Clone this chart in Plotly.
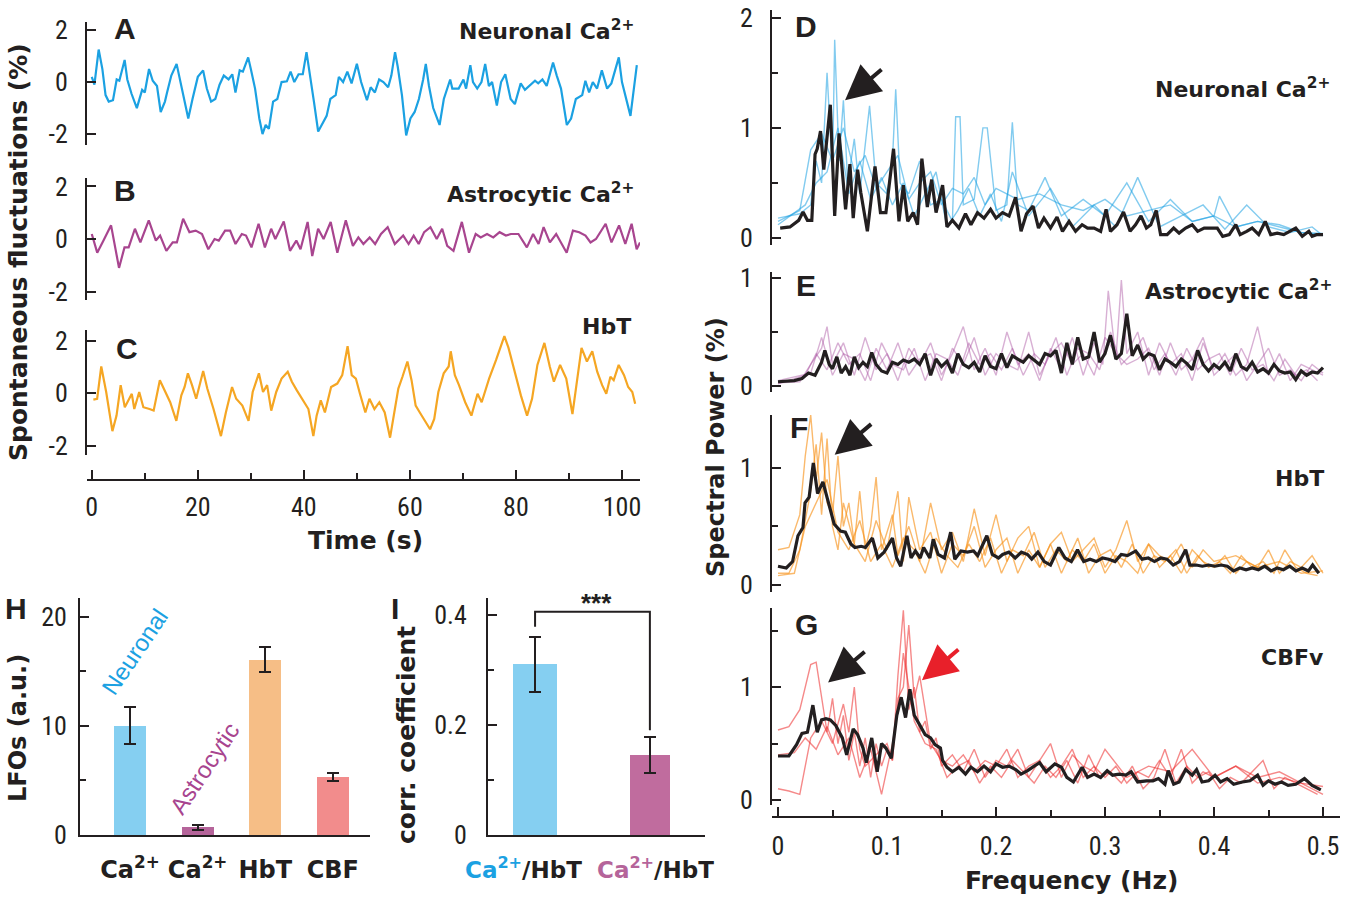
import plotly.graph_objects as go

# ---------------- data ----------------
# (time s, fluctuation %)
NEURONAL_TRACE = [(0,0.2),(0.5,-0.1),(1.3,1.25),(2.0,0.5),(2.6,-0.5),(3.2,-0.75),(4.0,-0.7),(4.7,0.1),(5.2,0.05),(6.2,0.85),(6.7,0.1),(7.5,-0.45),(8.5,-1.0),(9.5,-0.3),(10.0,-0.4),(10.8,0.5),(11.5,0.05),(12.3,-0.15),(13.0,-1.15),(13.8,-0.75),(14.2,-0.4),(15.0,0.25),(16.0,0.7),(17.0,-0.25),(18.2,-1.4),(19.0,-0.65),(20.0,0.2),(21.0,0.45),(21.7,-0.25),(22.5,-0.75),(23.3,-0.65),(24.1,-0.1),(24.9,0.25),(25.8,0.1),(26.5,0.3),(27.1,-0.4),(27.9,0.45),(28.5,0.4),(29.5,0.95),(30.0,0.5),(30.8,-0.25),(31.6,-1.4),(32.2,-2.0),(32.8,-1.65),(33.4,-1.8),(34.2,-0.75),(35.0,-0.65),(35.8,0.0),(36.8,0.03),(37.5,0.4),(38.2,0.0),(39.0,0.3),(39.8,0.3),(40.5,1.15),(41.1,0.4),(41.9,-0.75),(42.7,-1.9),(43.5,-1.6),(44.3,-1.3),(45.0,-0.65),(46.0,-0.5),(46.6,0.2),(47.4,0.0),(48.2,0.4),(49.0,-0.05),(50.0,0.7),(50.8,0.0),(51.9,-0.7),(52.6,-0.2),(53.4,-0.4),(54.2,0.1),(55.0,0.0),(55.9,-0.2),(56.5,0.25),(57.2,1.15),(57.7,0.6),(58.5,-0.5),(59.3,-2.05),(60.1,-1.4),(60.9,-1.15),(61.7,-0.65),(62.5,0.1),(63.0,0.7),(63.6,-0.15),(64.4,-1.0),(65.6,-1.65),(66.4,-0.65),(67.6,0.1),(68.0,-0.25),(69.2,-0.25),(70.1,0.1),(70.6,-0.25),(71.4,0.65),(71.9,0.0),(72.7,-0.25),(73.5,0.0),(74.2,0.7),(74.9,-0.15),(75.5,0.0),(76.4,-0.9),(77.2,0.0),(78.0,0.3),(79.0,-0.65),(79.8,-0.85),(80.9,-0.05),(81.7,-0.3),(82.5,-0.15),(83.6,0.05),(84.2,-0.05),(85.0,0.1),(85.8,-0.15),(87.0,0.75),(87.7,0.25),(88.5,-0.25),(89.6,-1.65),(90.4,-1.4),(91.3,-0.65),(92.5,-0.5),(93.1,0.05),(93.8,-0.4),(94.5,0.0),(95.3,-0.25),(96.2,0.45),(97.2,-0.25),(98.0,-0.05),(99.4,0.95),(100.0,0.0),(100.8,-0.7),(101.6,-1.3),(102.8,0.65)]

ASTRO_TRACE = [(0,0.19),(1.03,-0.52),(2.21,-0.06),(3.64,0.52),(5.14,-1.1),(6.17,-0.32),(6.96,-0.32),(8.14,0.39),(9.17,-0.13),(10.75,0.71),(12.09,-0.06),(12.89,0.13),(14.07,-0.45),(15.26,-0.13),(16.05,-0.13),(17.23,0.77),(18.42,0.26),(19.6,0.32),(20.79,0.19),(21.98,-0.39),(23.16,0),(23.95,-0.06),(25.14,0.32),(26.09,0.32),(27.11,-0.19),(28.3,0.19),(29.09,0.13),(30.12,-0.32),(31.46,0.58),(32.65,-0.32),(33.83,0.39),(34.62,0),(36.21,0.67),(37.39,-0.45),(38.58,-0.06),(39.37,-0.39),(40.71,0.65),(41.58,-0.65),(42.69,0.39),(43.72,0),(45.06,0.65),(46.32,-0.52),(47.91,0.71),(49.25,-0.26),(50.28,0.06),(51.23,-0.19),(52.41,0.06),(53.44,-0.19),(54.55,0.19),(55.81,0.45),(57.15,-0.19),(58.74,0.13),(59.76,-0.19),(60.71,0.13),(61.66,-0.19),(62.69,0.26),(63.87,0.45),(65.06,0),(66.09,0.39),(67.04,-0.26),(68.22,-0.45),(69.8,0.65),(71.15,-0.52),(72.41,0.19),(73.36,0.06),(74.55,0.19),(75.73,0.06),(76.92,0.26),(78.1,0.13),(79.05,0.19),(80.47,0.19),(82.06,-0.32),(83.24,0.19),(84.27,-0.19),(85.22,0.45),(86.4,-0.13),(87.59,0.19),(89.57,-0.52),(90.75,0.32),(91.94,0.26),(93.12,0.13),(94.07,-0.13),(95.1,0),(96.92,0.58),(98.02,-0.13),(99.45,0.52),(100.63,-0.19),(101.82,0.58),(102.77,-0.39),(103.4,-0.13)]

HBT_TRACE = [(0.3,-0.25),(1.01,-0.22),(1.79,1.01),(2.72,0.04),(3.89,-1.45),(4.67,-0.86),(5.45,0.3),(6.23,-0.54),(7.55,-0.03),(8.02,-0.61),(8.95,0.04),(9.73,-0.54),(10.89,-0.61),(11.67,-0.67),(12.84,0.49),(13.62,0.17),(14.79,-0.35),(15.95,-1.06),(16.89,-0.09),(17.51,0.23),(18.13,0.75),(18.91,0.3),(19.69,-0.22),(21.01,0.84),(21.79,0.17),(22.96,-0.61),(24.36,-1.64),(25.29,-0.74),(26.46,0.23),(27.24,-0.22),(28.4,-0.48),(29.57,-1.06),(30.35,0.04),(31.52,0.75),(32.3,0.04),(33.07,0.3),(33.85,-0.67),(34.79,0.04),(35.8,0.55),(36.96,0.81),(37.74,0.43),(38.68,0.1),(39.69,-0.22),(40.86,-0.61),(41.79,-1.64),(42.41,-0.86),(43.19,-0.28),(43.97,-0.74),(45.14,0.23),(46.3,0.36),(47.24,0.68),(48.25,1.78),(49.03,0.68),(49.81,0.55),(50.58,-0.03),(51.6,-0.74),(52.37,-0.22),(53.31,-0.61),(54.24,-0.35),(55.25,-0.74),(56.26,-1.7),(57.04,-0.74),(57.82,0.17),(58.6,0.62),(59.53,1.2),(60.31,0.49),(61.09,-0.48),(61.87,-0.74),(62.65,-0.99),(63.81,-1.38),(64.59,-0.99),(65.37,0.04),(66.38,0.75),(67.32,1.01),(67.7,1.59),(68.48,0.68),(69.26,0.3),(70.43,-0.35),(71.6,-0.86),(72.76,-0.03),(73.54,-0.35),(74.16,0.04),(74.94,0.55),(76.26,1.26),(77.82,2.17),(78.6,1.72),(79.77,0.81),(80.93,-0.09),(82.1,-0.86),(83.04,-0.22),(84.05,1.07),(85.37,1.91),(86.38,1.01),(87.16,0.43),(88.33,1.07),(89.49,0.55),(90.66,-0.8),(91.44,0.3),(92.37,1.72),(93.39,1.2),(94.4,1.59),(95.33,0.81),(96.26,0.3),(97.04,-0.03),(97.82,0.62),(98.44,0.49),(99.38,1.07),(100.39,0.68),(101.17,0.23),(101.95,0.04),(102.49,-0.41)]

# spectra: (frequency Hz, power %)
D_MEAN = [(0.002,0.09),(0.011,0.10),(0.019,0.16),(0.023,0.235),(0.027,0.16),(0.031,0.16),(0.034,0.76),(0.036,0.81),(0.039,0.97),(0.042,0.62),(0.048,1.21),(0.052,0.2),(0.056,0.95),(0.062,0.26),(0.066,0.67),(0.069,0.18),(0.073,0.62),(0.076,0.41),(0.082,0.06),(0.089,0.65),(0.094,0.23),(0.099,0.23),(0.106,0.81),(0.111,0.15),(0.115,0.48),(0.119,0.15),(0.124,0.23),(0.128,0.12),(0.132,0.72),(0.137,0.28),(0.141,0.53),(0.145,0.23),(0.151,0.48),(0.155,0.1),(0.16,0.16),(0.166,0.09),(0.172,0.22),(0.177,0.12),(0.183,0.23),(0.189,0.18),(0.195,0.26),(0.2,0.18),(0.206,0.23),(0.212,0.2),(0.218,0.37),(0.223,0.06),(0.228,0.22),(0.234,0.29),(0.239,0.09),(0.244,0.18),(0.25,0.09),(0.256,0.19),(0.261,0.06),(0.267,0.15),(0.273,0.06),(0.279,0.12),(0.284,0.09),(0.29,0.09),(0.296,0.06),(0.301,0.26),(0.305,0.06),(0.311,0.12),(0.317,0.235),(0.323,0.06),(0.328,0.12),(0.333,0.2),(0.338,0.09),(0.342,0.12),(0.347,0.25),(0.351,0.03),(0.357,0.03),(0.363,0.09),(0.368,0.044),(0.374,0.09),(0.38,0.12),(0.385,0.06),(0.391,0.09),(0.396,0.09),(0.403,0.09),(0.408,0.015),(0.414,0.03),(0.42,0.12),(0.424,0.03),(0.43,0.06),(0.435,0.09),(0.441,0.03),(0.447,0.15),(0.452,0.03),(0.458,0.044),(0.464,0.03),(0.469,0.06),(0.475,0.09),(0.481,0.015),(0.487,0.06),(0.49,0.015),(0.494,0.03),(0.5,0.03)]
D_ANIMALS = [
    [(0,0.18),(0.02,0.22),(0.03,0.3),(0.035,0.7),(0.04,0.5),(0.045,1.5),(0.05,0.6),(0.052,1.8),(0.056,0.7),(0.06,1.25),(0.064,0.5),(0.07,0.9),(0.075,0.4),(0.08,0.85),(0.084,1.2),(0.09,0.5),(0.1,0.4),(0.105,0.7),(0.108,1.35),(0.112,0.5),(0.12,0.4),(0.13,0.7),(0.14,0.3),(0.15,0.35),(0.16,0.15),(0.163,1.1),(0.167,1.1),(0.17,0.3),(0.18,0.35),(0.188,1.0),(0.192,1.0),(0.2,0.25),(0.21,0.3),(0.215,1.05),(0.22,0.3),(0.23,0.25),(0.245,0.55),(0.26,0.2),(0.28,0.35),(0.3,0.2),(0.32,0.5),(0.34,0.15),(0.36,0.35),(0.38,0.15),(0.4,0.2),(0.405,0.38),(0.42,0.1),(0.44,0.15),(0.46,0.1),(0.48,0.05),(0.5,0.03)],
    [(0,0.15),(0.02,0.25),(0.03,0.8),(0.04,0.95),(0.05,0.7),(0.06,1.0),(0.07,0.6),(0.08,0.75),(0.09,0.45),(0.1,0.6),(0.11,0.75),(0.12,0.35),(0.13,0.5),(0.14,0.6),(0.15,0.3),(0.16,0.45),(0.17,0.4),(0.18,0.55),(0.19,0.3),(0.2,0.45),(0.22,0.35),(0.24,0.4),(0.26,0.3),(0.28,0.25),(0.3,0.35),(0.32,0.2),(0.34,0.25),(0.36,0.3),(0.38,0.15),(0.4,0.2),(0.42,0.1),(0.44,0.15),(0.46,0.12),(0.48,0.05),(0.5,0.04)],
    [(0,0.12),(0.025,0.3),(0.035,0.5),(0.045,0.6),(0.055,1.0),(0.065,0.4),(0.075,0.7),(0.085,0.35),(0.095,0.55),(0.105,0.3),(0.115,0.5),(0.125,0.2),(0.135,0.4),(0.145,0.6),(0.155,0.1),(0.165,0.25),(0.175,0.45),(0.185,0.2),(0.195,0.4),(0.205,0.15),(0.215,0.6),(0.23,0.2),(0.25,0.45),(0.27,0.1),(0.29,0.3),(0.31,0.1),(0.33,0.55),(0.35,0.1),(0.37,0.2),(0.39,0.3),(0.41,0.08),(0.43,0.3),(0.45,0.1),(0.47,0.05),(0.49,0.1),(0.5,0.02)],
]

E_MEAN = [(0,0.04),(0.015,0.05),(0.022,0.07),(0.028,0.12),(0.034,0.1),(0.04,0.22),(0.043,0.33),(0.047,0.2),(0.05,0.16),(0.054,0.27),(0.058,0.12),(0.062,0.18),(0.066,0.1),(0.07,0.27),(0.074,0.17),(0.078,0.22),(0.082,0.18),(0.086,0.31),(0.09,0.2),(0.095,0.14),(0.1,0.12),(0.105,0.22),(0.11,0.2),(0.115,0.24),(0.12,0.22),(0.125,0.25),(0.13,0.2),(0.135,0.3),(0.14,0.1),(0.145,0.25),(0.15,0.18),(0.155,0.23),(0.16,0.12),(0.165,0.3),(0.17,0.2),(0.175,0.17),(0.18,0.22),(0.185,0.13),(0.19,0.28),(0.195,0.18),(0.2,0.16),(0.205,0.3),(0.21,0.17),(0.215,0.28),(0.22,0.25),(0.225,0.22),(0.23,0.28),(0.235,0.24),(0.24,0.2),(0.245,0.3),(0.25,0.28),(0.255,0.33),(0.26,0.12),(0.265,0.4),(0.27,0.2),(0.275,0.45),(0.28,0.25),(0.285,0.27),(0.29,0.5),(0.295,0.22),(0.3,0.3),(0.305,0.47),(0.31,0.25),(0.315,0.3),(0.32,0.67),(0.325,0.28),(0.33,0.38),(0.335,0.25),(0.34,0.3),(0.345,0.28),(0.35,0.15),(0.355,0.25),(0.36,0.22),(0.365,0.18),(0.37,0.25),(0.375,0.21),(0.38,0.15),(0.385,0.33),(0.39,0.2),(0.395,0.14),(0.4,0.2),(0.405,0.16),(0.41,0.22),(0.415,0.14),(0.42,0.3),(0.425,0.18),(0.43,0.15),(0.435,0.22),(0.44,0.13),(0.445,0.16),(0.45,0.12),(0.455,0.2),(0.46,0.14),(0.465,0.12),(0.47,0.13),(0.475,0.06),(0.48,0.14),(0.485,0.1),(0.49,0.13),(0.495,0.12),(0.5,0.17)]
E_ANIMALS = [
    [(0,0.03),(0.02,0.04),(0.03,0.2),(0.04,0.35),(0.045,0.55),(0.05,0.2),(0.06,0.4),(0.07,0.1),(0.08,0.45),(0.09,0.15),(0.1,0.3),(0.11,0.05),(0.12,0.35),(0.13,0.2),(0.14,0.4),(0.15,0.1),(0.16,0.3),(0.17,0.55),(0.18,0.15),(0.19,0.35),(0.2,0.1),(0.21,0.5),(0.22,0.2),(0.23,0.3),(0.24,0.05),(0.25,0.35),(0.26,0.15),(0.27,0.45),(0.28,0.1),(0.29,0.4),(0.298,0.2),(0.303,0.88),(0.31,0.25),(0.315,0.98),(0.32,0.3),(0.33,0.5),(0.34,0.1),(0.35,0.4),(0.36,0.2),(0.37,0.3),(0.38,0.05),(0.39,0.4),(0.4,0.15),(0.41,0.3),(0.42,0.1),(0.43,0.2),(0.44,0.55),(0.45,0.1),(0.46,0.3),(0.47,0.05),(0.48,0.2),(0.49,0.15),(0.5,0.1)],
    [(0,0.02),(0.025,0.1),(0.035,0.3),(0.045,0.15),(0.055,0.4),(0.065,0.2),(0.075,0.3),(0.085,0.05),(0.095,0.4),(0.105,0.2),(0.115,0.15),(0.125,0.35),(0.135,0.05),(0.145,0.3),(0.155,0.25),(0.165,0.1),(0.175,0.4),(0.185,0.2),(0.195,0.3),(0.205,0.15),(0.215,0.35),(0.225,0.1),(0.235,0.3),(0.245,0.2),(0.255,0.45),(0.265,0.1),(0.275,0.35),(0.285,0.3),(0.295,0.15),(0.305,0.5),(0.315,0.2),(0.325,0.3),(0.335,0.45),(0.345,0.15),(0.355,0.3),(0.365,0.1),(0.375,0.35),(0.385,0.15),(0.395,0.25),(0.405,0.3),(0.415,0.1),(0.425,0.35),(0.435,0.15),(0.445,0.2),(0.455,0.05),(0.465,0.25),(0.475,0.1),(0.485,0.15),(0.495,0.05)],
    [(0,0.05),(0.03,0.12),(0.04,0.45),(0.05,0.1),(0.06,0.3),(0.07,0.25),(0.08,0.05),(0.09,0.35),(0.1,0.15),(0.11,0.4),(0.12,0.1),(0.13,0.25),(0.14,0.3),(0.15,0.05),(0.16,0.35),(0.17,0.2),(0.18,0.45),(0.19,0.1),(0.2,0.3),(0.21,0.2),(0.22,0.15),(0.23,0.5),(0.24,0.1),(0.25,0.3),(0.26,0.4),(0.27,0.2),(0.28,0.3),(0.29,0.1),(0.3,0.45),(0.31,0.3),(0.32,0.2),(0.33,0.25),(0.34,0.35),(0.35,0.1),(0.36,0.4),(0.37,0.15),(0.38,0.25),(0.39,0.45),(0.4,0.1),(0.41,0.2),(0.42,0.3),(0.43,0.05),(0.44,0.2),(0.45,0.35),(0.46,0.1),(0.47,0.15),(0.48,0.05),(0.49,0.2),(0.5,0.12)],
]

F_MEAN = [(0,0.16),(0.0076,0.145),(0.0134,0.2),(0.0183,0.42),(0.0229,0.49),(0.0248,0.7),(0.0286,0.75),(0.0324,1.04),(0.0363,0.78),(0.0412,0.88),(0.0458,0.72),(0.0515,0.52),(0.0573,0.46),(0.0618,0.45),(0.0668,0.35),(0.0706,0.32),(0.0763,0.33),(0.0802,0.32),(0.0866,0.4),(0.0916,0.23),(0.0973,0.28),(0.105,0.4),(0.1088,0.23),(0.1126,0.16),(0.1183,0.42),(0.1221,0.23),(0.126,0.29),(0.1305,0.23),(0.1336,0.32),(0.1393,0.23),(0.1424,0.39),(0.1469,0.26),(0.1527,0.23),(0.1584,0.45),(0.1622,0.22),(0.1679,0.29),(0.1737,0.28),(0.1794,0.29),(0.1832,0.25),(0.1916,0.42),(0.1966,0.26),(0.2023,0.23),(0.2061,0.26),(0.2118,0.28),(0.2176,0.23),(0.2233,0.28),(0.229,0.26),(0.2328,0.22),(0.2385,0.28),(0.2443,0.2),(0.25,0.17),(0.2576,0.32),(0.2634,0.23),(0.2691,0.2),(0.2748,0.3),(0.2805,0.2),(0.2863,0.22),(0.292,0.2),(0.2977,0.23),(0.3034,0.22),(0.3092,0.2),(0.3149,0.26),(0.3206,0.25),(0.3282,0.29),(0.334,0.22),(0.3397,0.23),(0.3454,0.2),(0.3511,0.23),(0.3569,0.22),(0.3626,0.17),(0.3683,0.2),(0.374,0.3),(0.3779,0.17),(0.3836,0.17),(0.3893,0.16),(0.395,0.17),(0.4008,0.16),(0.4065,0.17),(0.4122,0.16),(0.4179,0.12),(0.4237,0.145),(0.4294,0.13),(0.4351,0.145),(0.4408,0.13),(0.4466,0.16),(0.4523,0.12),(0.458,0.145),(0.4637,0.13),(0.4695,0.16),(0.4752,0.12),(0.4809,0.145),(0.4866,0.12),(0.4905,0.17),(0.4962,0.1)]
F_ANIMALS = [
    [(0,0.3),(0.01,0.32),(0.02,0.6),(0.025,1.1),(0.03,1.45),(0.035,0.9),(0.04,1.3),(0.045,0.7),(0.05,0.6),(0.055,1.1),(0.06,0.5),(0.065,0.7),(0.07,0.35),(0.075,0.8),(0.08,0.3),(0.085,0.5),(0.09,0.92),(0.095,0.3),(0.1,0.45),(0.105,0.6),(0.11,0.25),(0.12,0.5),(0.13,0.2),(0.14,0.7),(0.15,0.3),(0.16,0.45),(0.17,0.2),(0.18,0.65),(0.19,0.25),(0.2,0.6),(0.21,0.2),(0.22,0.4),(0.23,0.5),(0.24,0.15),(0.25,0.35),(0.26,0.45),(0.27,0.2),(0.28,0.3),(0.29,0.4),(0.3,0.15),(0.31,0.3),(0.32,0.55),(0.33,0.2),(0.34,0.35),(0.35,0.25),(0.36,0.2),(0.37,0.35),(0.38,0.15),(0.39,0.3),(0.4,0.2),(0.42,0.25),(0.44,0.15),(0.46,0.2),(0.48,0.1),(0.5,0.12)],
    [(0,0.1),(0.01,0.1),(0.02,0.3),(0.03,0.8),(0.035,1.2),(0.04,0.6),(0.045,1.25),(0.05,0.5),(0.055,0.3),(0.06,0.7),(0.07,0.35),(0.08,0.2),(0.09,0.55),(0.1,0.3),(0.11,0.8),(0.115,0.2),(0.12,0.75),(0.13,0.3),(0.14,0.45),(0.15,0.1),(0.16,0.35),(0.17,0.25),(0.18,0.5),(0.19,0.15),(0.2,0.3),(0.21,0.4),(0.22,0.1),(0.23,0.3),(0.24,0.15),(0.25,0.35),(0.26,0.1),(0.27,0.3),(0.28,0.2),(0.29,0.35),(0.3,0.1),(0.31,0.25),(0.32,0.2),(0.33,0.1),(0.34,0.35),(0.35,0.15),(0.36,0.25),(0.37,0.1),(0.38,0.3),(0.39,0.2),(0.4,0.15),(0.41,0.25),(0.42,0.1),(0.43,0.2),(0.44,0.15),(0.45,0.3),(0.46,0.1),(0.47,0.2),(0.48,0.15),(0.49,0.25),(0.5,0.1)],
    [(0,0.08),(0.015,0.1),(0.025,0.5),(0.035,0.7),(0.045,0.9),(0.055,0.45),(0.065,0.3),(0.075,0.55),(0.085,0.2),(0.095,0.35),(0.105,0.15),(0.115,0.4),(0.125,0.3),(0.135,0.1),(0.145,0.4),(0.155,0.25),(0.165,0.15),(0.175,0.35),(0.185,0.2),(0.195,0.4),(0.205,0.1),(0.215,0.3),(0.225,0.25),(0.235,0.45),(0.245,0.15),(0.255,0.3),(0.265,0.2),(0.275,0.4),(0.285,0.1),(0.295,0.25),(0.305,0.3),(0.315,0.15),(0.325,0.35),(0.335,0.1),(0.345,0.25),(0.355,0.2),(0.365,0.3),(0.375,0.1),(0.385,0.25),(0.395,0.15),(0.405,0.2),(0.415,0.1),(0.425,0.25),(0.435,0.15),(0.445,0.2),(0.455,0.1),(0.465,0.3),(0.475,0.15),(0.485,0.1),(0.495,0.08)],
]

G_MEAN = [(0,0.39),(0.01,0.39),(0.017,0.49),(0.022,0.59),(0.027,0.6),(0.032,0.84),(0.036,0.6),(0.04,0.71),(0.044,0.72),(0.048,0.71),(0.053,0.66),(0.059,0.55),(0.063,0.4),(0.069,0.63),(0.073,0.58),(0.078,0.46),(0.081,0.33),(0.086,0.55),(0.091,0.25),(0.095,0.5),(0.099,0.46),(0.104,0.37),(0.109,0.75),(0.113,0.91),(0.117,0.73),(0.121,0.98),(0.125,0.75),(0.13,0.66),(0.135,0.58),(0.14,0.55),(0.144,0.49),(0.149,0.46),(0.151,0.35),(0.155,0.29),(0.16,0.25),(0.166,0.29),(0.172,0.23),(0.177,0.29),(0.183,0.25),(0.189,0.3),(0.195,0.25),(0.2,0.32),(0.206,0.29),(0.212,0.3),(0.218,0.27),(0.223,0.23),(0.229,0.26),(0.235,0.3),(0.24,0.33),(0.246,0.25),(0.254,0.32),(0.26,0.29),(0.265,0.2),(0.271,0.16),(0.279,0.29),(0.284,0.2),(0.29,0.23),(0.296,0.2),(0.302,0.26),(0.307,0.22),(0.313,0.23),(0.319,0.22),(0.324,0.25),(0.33,0.16),(0.338,0.17),(0.344,0.17),(0.349,0.19),(0.355,0.14),(0.358,0.26),(0.363,0.14),(0.368,0.16),(0.374,0.27),(0.38,0.22),(0.384,0.27),(0.389,0.16),(0.395,0.17),(0.401,0.22),(0.406,0.16),(0.412,0.19),(0.418,0.14),(0.426,0.16),(0.433,0.17),(0.44,0.22),(0.445,0.13),(0.45,0.17),(0.456,0.14),(0.462,0.16),(0.468,0.13),(0.475,0.14),(0.483,0.19),(0.49,0.13),(0.498,0.09)]
G_ANIMALS = [
    [(0,0.62),(0.01,0.65),(0.02,0.8),(0.03,1.2),(0.035,1.22),(0.04,0.9),(0.045,0.6),(0.05,0.9),(0.055,0.5),(0.06,0.75),(0.065,0.35),(0.07,0.6),(0.075,0.3),(0.08,0.55),(0.085,0.2),(0.09,0.5),(0.095,0.3),(0.1,0.45),(0.105,0.35),(0.11,1.1),(0.115,1.68),(0.12,0.8),(0.125,1.0),(0.13,0.6),(0.135,0.7),(0.14,0.45),(0.145,0.55),(0.15,0.3),(0.16,0.4),(0.17,0.25),(0.18,0.45),(0.19,0.2),(0.2,0.35),(0.21,0.3),(0.22,0.45),(0.23,0.2),(0.24,0.35),(0.25,0.5),(0.26,0.2),(0.27,0.4),(0.28,0.3),(0.29,0.25),(0.3,0.45),(0.32,0.2),(0.34,0.3),(0.36,0.25),(0.38,0.45),(0.4,0.2),(0.42,0.3),(0.44,0.2),(0.46,0.25),(0.48,0.15),(0.5,0.12)],
    [(0,0.1),(0.01,0.08),(0.02,0.05),(0.03,0.55),(0.04,0.7),(0.05,0.5),(0.06,0.85),(0.065,0.6),(0.07,1.0),(0.075,0.45),(0.08,0.3),(0.09,0.4),(0.1,0.5),(0.105,0.35),(0.11,0.9),(0.115,1.0),(0.12,1.55),(0.125,0.9),(0.13,1.1),(0.14,0.5),(0.15,0.35),(0.16,0.3),(0.17,0.4),(0.18,0.25),(0.19,0.35),(0.2,0.3),(0.21,0.45),(0.22,0.2),(0.23,0.3),(0.24,0.35),(0.25,0.2),(0.26,0.3),(0.27,0.45),(0.28,0.2),(0.29,0.3),(0.3,0.2),(0.31,0.3),(0.32,0.15),(0.33,0.25),(0.34,0.2),(0.35,0.35),(0.36,0.2),(0.37,0.45),(0.38,0.15),(0.39,0.25),(0.4,0.2),(0.42,0.3),(0.44,0.15),(0.46,0.2),(0.48,0.15),(0.5,0.05)],
    [(0,0.4),(0.015,0.42),(0.025,0.55),(0.035,0.45),(0.045,0.65),(0.055,0.4),(0.065,0.55),(0.075,0.2),(0.085,0.45),(0.095,0.05),(0.105,0.5),(0.11,0.8),(0.115,1.3),(0.12,1.0),(0.125,0.7),(0.135,0.5),(0.145,0.45),(0.155,0.2),(0.165,0.3),(0.175,0.35),(0.185,0.15),(0.195,0.3),(0.205,0.2),(0.215,0.35),(0.225,0.25),(0.235,0.15),(0.245,0.3),(0.255,0.2),(0.265,0.35),(0.275,0.15),(0.285,0.4),(0.295,0.2),(0.305,0.25),(0.315,0.15),(0.325,0.3),(0.335,0.1),(0.345,0.2),(0.355,0.45),(0.365,0.15),(0.375,0.3),(0.385,0.2),(0.395,0.25),(0.405,0.1),(0.415,0.2),(0.425,0.15),(0.435,0.25),(0.445,0.35),(0.455,0.1),(0.465,0.2),(0.475,0.15),(0.485,0.1),(0.495,0.05)],
]

# panel H
H_VALUES = [10.0, 0.7, 16.05, 5.3]
H_ERRORS = [1.7, 0.25, 1.15, 0.35]
H_LABELS = ["<b>Ca<sup>2+</sup></b>", "<b>Ca<sup>2+</sup></b>", "<b>HbT</b>", "<b>CBF</b>"]
H_COLORS = ["#85CFF1", "#B5649A", "#F6BE86", "#F28C8C"]
# panel I
I_VALUES = [0.31, 0.145]
I_ERRORS = [0.05, 0.033]
I_COLORS = ["#85CFF1", "#C06C9E"]
I_LABEL_COLORS = ["#1BA1E2", "#B5649A"]

INK = "#231F20"
BLUE = "#1BA1E2"
PURPLE = "#A8458F"
ORANGE = "#F5A623"

W, H = 1350, 903
def px(x): return x / W
def py(y): return 1 - y / H

NARROW = "Liberation Sans Narrow, Arial Narrow, Roboto Condensed, Liberation Sans, sans-serif"
BOLD = "DejaVu Sans, Liberation Sans, Arial, sans-serif"
LETTER = "Liberation Sans, Arial, sans-serif"
TICKFONT = dict(family=NARROW, size=26, color=INK)

fig = go.Figure()

def xy(pairs):
    return [p[0] for p in pairs], [p[1] for p in pairs]

# time traces
for pairs, col, ya in [(NEURONAL_TRACE, BLUE, "y"), (ASTRO_TRACE, PURPLE, "y2"), (HBT_TRACE, ORANGE, "y3")]:
    x, y = xy(pairs)
    fig.add_trace(go.Scatter(x=x, y=y, mode="lines", line=dict(color=col, width=2.2), xaxis="x", yaxis=ya, hoverinfo="skip"))

# spectra
for animals, mean, col, ya in [(D_ANIMALS, D_MEAN, "rgba(27,161,226,0.55)", "y4"),
                               (E_ANIMALS, E_MEAN, "rgba(168,80,160,0.45)", "y5"),
                               (F_ANIMALS, F_MEAN, "rgba(247,148,29,0.65)", "y6"),
                               (G_ANIMALS, G_MEAN, "rgba(236,40,40,0.55)", "y7")]:
    for a in animals:
        x, y = xy(a)
        fig.add_trace(go.Scatter(x=x, y=y, mode="lines", line=dict(color=col, width=1.4), xaxis="x2", yaxis=ya, hoverinfo="skip"))
    x, y = xy(mean)
    fig.add_trace(go.Scatter(x=x, y=y, mode="lines", line=dict(color=INK, width=3.2), xaxis="x2", yaxis=ya, hoverinfo="skip"))

# bars H
fig.add_trace(go.Bar(x=[0, 1, 2, 3], y=H_VALUES, width=0.47, marker=dict(color=H_COLORS, line=dict(width=0)),
                     error_y=dict(type="data", array=H_ERRORS, color=INK, thickness=2, width=6),
                     xaxis="x3", yaxis="y8", hoverinfo="skip"))
# bars I
fig.add_trace(go.Bar(x=[0, 1], y=I_VALUES, width=[0.39, 0.35], marker=dict(color=I_COLORS, line=dict(width=0)),
                     error_y=dict(type="data", array=I_ERRORS, color=INK, thickness=2, width=6),
                     xaxis="x4", yaxis="y9", hoverinfo="skip"))

base = dict(showline=True, linewidth=2, linecolor=INK, ticks="inside", ticklen=9, tickwidth=2,
            tickcolor=INK, showgrid=False, zeroline=False, tickfont=TICKFONT, fixedrange=True, tickangle=0,
            automargin=False)
def minor(vals):
    return dict(tickvals=vals, ticks="inside", ticklen=6, tickwidth=2, tickcolor=INK, showgrid=False)

TS_TICKS = dict(tickvals=[-2, 0, 2], ticktext=["-2", "0", "2"], ticklabelstandoff=12)
layout = dict(
    width=W, height=H, margin=dict(l=0, r=0, t=0, b=0, autoexpand=False), paper_bgcolor="white", plot_bgcolor="white",
    showlegend=False, bargap=0,
    xaxis=dict(base, domain=[px(87), px(640)], range=[-0.9, 103.4], anchor="free", position=py(480),
               tickvals=[0, 20, 40, 60, 80, 100], minor=minor([10, 30, 50, 70, 90]), ticklabelstandoff=4),
    yaxis=dict(base, domain=[py(145), py(22)], range=[-2.42, 2.31], anchor="x", **TS_TICKS),
    yaxis2=dict(base, domain=[py(300), py(178)], range=[-2.32, 2.32], anchor="x", **TS_TICKS),
    yaxis3=dict(base, domain=[py(455), py(330)], range=[-2.36, 2.4], anchor="x", **TS_TICKS),
    xaxis2=dict(base, domain=[px(772), px(1340)], range=[-0.0055, 0.5156], anchor="free", position=py(817),
                tickvals=[0, 0.1, 0.2, 0.3, 0.4, 0.5], ticktext=["0", "0.1", "0.2", "0.3", "0.4", "0.5"],
                minor=minor([0.05, 0.15, 0.25, 0.35, 0.45]), ticklabelstandoff=6),
    yaxis4=dict(base, domain=[py(245), py(10)], range=[-0.064, 2.07], anchor="x2", tickvals=[0, 1, 2], minor=minor([0.5, 1.5]), ticklabelstandoff=12),
    yaxis5=dict(base, domain=[py(392), py(272)], range=[-0.055, 1.055], anchor="x2", tickvals=[0, 1], minor=minor([0.5]), ticklabelstandoff=12),
    yaxis6=dict(base, domain=[py(592), py(415)], range=[-0.06, 1.45], anchor="x2", tickvals=[0, 1], minor=minor([0.5]), ticklabelstandoff=12),
    yaxis7=dict(base, domain=[py(805), py(608)], range=[-0.044, 1.70], anchor="x2", tickvals=[0, 1], minor=minor([0.5, 1.5]), ticklabelstandoff=12),
    xaxis3=dict(base, domain=[px(80), px(370)], range=[-0.74, 3.55], anchor="y8", ticks="", tickvals=[0, 1, 2, 3],
                ticktext=H_LABELS, tickfont=dict(family=BOLD, size=24, color=INK), ticklabelstandoff=12),
    yaxis8=dict(base, domain=[py(835), py(598)], range=[0, 21.7], anchor="x3", tickvals=[0, 10, 20], minor=minor([5, 15]), ticklabelstandoff=6),
    xaxis4=dict(base, domain=[px(488), px(705)], range=[-0.41, 1.48], anchor="y9", ticks="", showticklabels=False),
    yaxis9=dict(base, domain=[py(835), py(598)], range=[0, 0.43], anchor="x4", tickvals=[0, 0.2, 0.4],
                ticktext=["0", "0.2", "0.4"], minor=minor([0.1, 0.3]), ticklabelstandoff=14),
)
fig.update_layout(**layout)

ann = []
def txt(x, y, s, size=22, angle=0, xanchor="center", color=INK, family=BOLD):
    ann.append(dict(x=px(x), y=py(y), xref="paper", yref="paper", text=s, showarrow=False, textangle=angle,
                    xanchor=xanchor, yanchor="middle", font=dict(family=family, size=size, color=color)))

for lab, x, y in [("A", 125, 28), ("B", 125, 191), ("C", 127, 348), ("D", 806, 26), ("E", 806, 286),
                  ("F", 799, 428), ("G", 806, 624), ("H", 16, 608), ("I", 395, 608)]:
    txt(x, y, "<b>%s</b>" % lab, size=30, family=LETTER)

txt(636, 30, "<b>Neuronal Ca<sup>2+</sup></b>", 22, xanchor="right")
txt(636, 193, "<b>Astrocytic Ca<sup>2+</sup></b>", 22, xanchor="right")
txt(633, 326, "<b>HbT</b>", 22, xanchor="right")
txt(1332, 88, "<b>Neuronal Ca<sup>2+</sup></b>", 22, xanchor="right")
txt(1334, 290, "<b>Astrocytic Ca<sup>2+</sup></b>", 22, xanchor="right")
txt(1326, 479, "<b>HbT</b>", 22, xanchor="right")
txt(1326, 657, "<b>CBFv</b>", 22, xanchor="right")

txt(18, 252, "<b>Spontaneous fluctuations (%)</b>", 25, angle=-90)
txt(365, 540, "<b>Time (s)</b>", 25)
txt(716, 447, "<b>Spectral Power (%)</b>", 24, angle=-90)
txt(1071, 880, "<b>Frequency (Hz)</b>", 25)
txt(18, 728, "<b>LFOs (a.u.)</b>", 24, angle=-90)
txt(406, 735, "<b>corr. coefficient</b>", 25, angle=-90)
txt(134, 652, "Neuronal", 24, angle=-56, color=BLUE, family=LETTER)
txt(204, 768, "Astrocytic", 24, angle=-56, color=PURPLE, family=LETTER)
txt(596, 603, "<b>***</b>", 26, family=LETTER)
# panel I category labels
for xc, col in zip([523, 655], I_LABEL_COLORS):
    txt(xc, 868, "<b><span style='color:%s'>Ca<sup>2+</sup></span>/HbT</b>" % col, 23)

# arrows
for xr, yr, x, y, col in [("x2", "y4", 0.0615, 1.25, INK), ("x2", "y6", 0.052, 1.11, INK),
                          ("x2", "y7", 0.046, 1.04, INK), ("x2", "y7", 0.132, 1.06, "#E8202A")]:
    ann.append(dict(x=x, y=y, xref=xr, yref=yr, ax=38, ay=-32, showarrow=True, arrowhead=2, arrowsize=1.75,
                    arrowwidth=4, arrowcolor=col, text=""))
fig.update_layout(annotations=ann)

# significance bracket in panel I
fig.add_shape(type="path", path="M 0,0.378 L 0,0.405 L 1,0.405 L 1,0.19", xref="x4", yref="y9",
              line=dict(color=INK, width=2))

PAGE_FIX = ("document.documentElement.style.margin='0';document.body.style.margin='0';"
            "document.body.style.padding='0';document.body.style.overflow='hidden';")
fig.write_html("out.html", config={"responsive": False, "displayModeBar": False}, post_script=PAGE_FIX)
